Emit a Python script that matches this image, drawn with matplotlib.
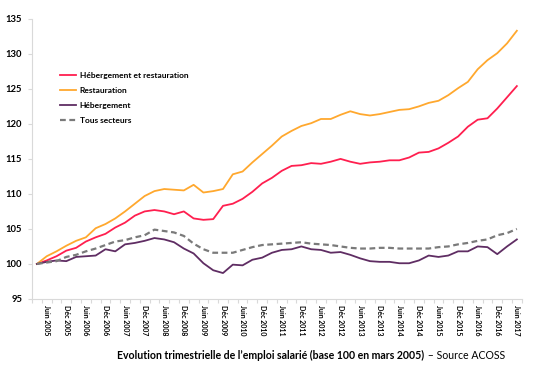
import matplotlib
matplotlib.use("Agg")
import matplotlib.pyplot as plt
import numpy as np

plt.rcParams["font.family"] = ["Lato", "DejaVu Sans"]

# quarterly, mars 2005 -> juin 2017
quarters = []
for year in range(2005, 2018):
    for m in ["Mars", "Juin", "Sept", "Déc"]:
        quarters.append(f"{m} {year}")
quarters = quarters[:50]

heb_resto = [100.0, 100.5, 101.1, 101.9, 102.3, 103.2, 103.8, 104.3, 105.2, 105.9,
             106.9, 107.5, 107.7, 107.5, 107.1, 107.5, 106.5, 106.3, 106.4, 108.3,
             108.6, 109.3, 110.3, 111.5, 112.3, 113.3, 114.0, 114.1, 114.4, 114.3,
             114.6, 115.0, 114.6, 114.3, 114.5, 114.6, 114.8, 114.8, 115.2, 115.9,
             116.0, 116.5, 117.3, 118.2, 119.6, 120.6, 120.8, 122.2, 123.8, 125.4]
restauration = [100.0, 101.1, 101.8, 102.6, 103.3, 103.8, 105.1, 105.7, 106.5, 107.5,
                108.6, 109.7, 110.4, 110.7, 110.6, 110.5, 111.3, 110.2, 110.4, 110.7,
                112.8, 113.2, 114.5, 115.7, 116.9, 118.2, 119.0, 119.7, 120.1, 120.7,
                120.7, 121.3, 121.8, 121.4, 121.2, 121.4, 121.7, 122.0, 122.1, 122.5,
                123.0, 123.3, 124.1, 125.1, 126.0, 127.8, 129.1, 130.1, 131.5, 133.3]
hebergement = [100.0, 100.3, 100.5, 100.4, 101.0, 101.1, 101.2, 102.1, 101.8, 102.8,
               103.0, 103.3, 103.7, 103.5, 103.1, 102.2, 101.5, 100.1, 99.1, 98.7,
               99.9, 99.8, 100.6, 100.9, 101.6, 102.0, 102.1, 102.5, 102.1, 102.0,
               101.6, 101.7, 101.3, 100.8, 100.4, 100.3, 100.3, 100.1, 100.1, 100.5,
               101.2, 101.0, 101.2, 101.8, 101.8, 102.5, 102.4, 101.4, 102.5, 103.5]
tous_secteurs = [100.0, 100.2, 100.4, 101.0, 101.3, 101.8, 102.2, 102.7, 103.2, 103.4,
                 103.8, 104.1, 104.9, 104.7, 104.5, 104.0, 102.9, 102.1, 101.6, 101.6,
                 101.6, 102.0, 102.4, 102.7, 102.8, 102.9, 103.0, 103.1, 102.9, 102.8,
                 102.7, 102.5, 102.3, 102.2, 102.2, 102.3, 102.3, 102.2, 102.2, 102.2,
                 102.2, 102.4, 102.5, 102.8, 103.0, 103.3, 103.5, 104.1, 104.4, 105.0]

y_ticks = [95, 100, 105, 110, 115, 120, 125, 130, 135]

fig = plt.figure(figsize=(5.37, 3.77), dpi=100)
ax = fig.add_axes([0.0596, 0.207, 0.912, 0.743])

x = np.arange(len(quarters))
ax.plot(x, heb_resto, color="#ff1f4f", lw=1.3, label="Hébergement et restauration")
ax.plot(x, restauration, color="#ffa82e", lw=1.3, label="Restauration")
ax.plot(x, hebergement, color="#5f2d63", lw=1.3, label="Hébergement")
ax.plot(x, tous_secteurs, color="#7a7a7a", lw=1.6, ls=(0, (2.6, 1.6)),
        label="Tous secteurs")

ax.set_xlim(-0.5, len(quarters) - 0.5)
ax.set_ylim(95, 135)
ax.set_yticks(y_ticks)
ax.set_yticklabels([str(v) for v in y_ticks], fontsize=6.8, fontweight="bold")

# labels on every other quarter (juin / déc)
lab_idx = x[1::2]
ax.set_xticks(lab_idx)
ax.set_xticklabels([quarters[i] for i in lab_idx], rotation=270,
                   fontsize=5, fontweight="bold", va="top", ha="center")
ax.set_xticks(np.arange(-0.5, len(quarters)), minor=True)
ax.tick_params(axis="x", which="major", length=0, pad=4)
ax.tick_params(axis="x", which="minor", length=3, color="#d9d9d9", width=0.8)
ax.tick_params(axis="y", length=3, color="#d9d9d9", width=0.8, pad=4)

for s in ["top", "right"]:
    ax.spines[s].set_visible(False)
for s in ["left", "bottom"]:
    ax.spines[s].set_color("#d9d9d9")
    ax.spines[s].set_linewidth(0.8)

leg = ax.legend(loc="upper left", bbox_to_anchor=(0.049, 0.826), frameon=False,
                borderpad=0, handlelength=1.9, handletextpad=0.45, labelspacing=0.95,
                prop={"size": 6, "weight": "bold"})

fig.text(424 / 537, 0.058,
         "Evolution trimestrielle de l\u2019emploi salarié (base 100 en mars 2005)",
         ha="right", va="center", fontsize=7.6, fontweight="bold")
fig.text(425 / 537, 0.058, " \u2013 Source ACOSS", ha="left", va="center", fontsize=7.6)

fig.savefig("out.png", dpi=100)
